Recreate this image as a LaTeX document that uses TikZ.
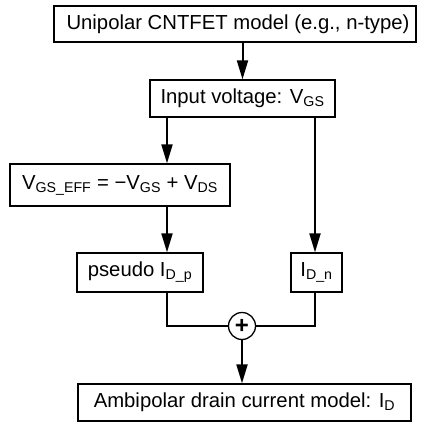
\documentclass[tikz,border=0pt]{standalone}
\usepackage{fontspec}
\setmainfont{Liberation Sans}
\usetikzlibrary{arrows.meta}

\tikzset{
  blockbox/.style={draw, line width=1.3pt, inner sep=0pt, align=center},
  flowarrow/.style={-{Triangle[length=19pt,width=11pt]}, line width=2pt},
  flowline/.style={line width=2pt},
}

\begin{document}
\begin{tikzpicture}[x=1pt, y=-1pt, font=\fontsize{20.3}{24}\selectfont]
  \useasboundingbox (0,0) rectangle (425,422);

  % lanes of the two branches
  \coordinate (leftlane) at (167,0);
  \coordinate (rightlane) at (315,0);

  \node[blockbox, minimum width=362pt, minimum height=36pt] (unipolar) at (235,24)
    {\hspace{6pt}Unipolar CNTFET model (e.g., n-type)};
  \node[blockbox, minimum width=185pt, minimum height=37pt] (input) at (242.5,98.5)
    {Input voltage: V\textsubscript{GS}};
  \node[blockbox, minimum width=220pt, minimum height=42pt] (vgseff) at (120,185)
    {V\textsubscript{GS\_EFF} = \textminus V\textsubscript{GS} + V\textsubscript{DS}};
  \node[blockbox, minimum width=126pt, minimum height=39pt] (pseudo) at (140,272.5)
    {pseudo I\textsubscript{D\_p}};
  \node[blockbox, minimum width=51pt, minimum height=39pt] (idn) at (316.5,272.5)
    {I\textsubscript{D\_n}};
  \node[draw, circle, line width=1.3pt, minimum size=27pt, inner sep=0pt,
        font=\fontsize{24}{24}\selectfont\bfseries] (sum) at (242,326) {+};
  \node[blockbox, minimum width=333pt, minimum height=37pt] (output) at (244.5,402.5)
    {Ambipolar drain current model: I\textsubscript{D}};

  \draw[flowarrow] (unipolar.south -| input) -- (input.north);
  \draw[flowarrow] (input.south -| leftlane) -- (vgseff.north -| leftlane);
  \draw[flowarrow] (vgseff.south -| leftlane) -- (pseudo.north -| leftlane);
  \draw[flowarrow] (input.south -| rightlane) -- (idn.north -| rightlane);
  \draw[flowline] (pseudo.south -| leftlane) |- (sum.west);
  \draw[flowline] (idn.south -| rightlane) |- (sum.east);
  \draw[flowarrow] (sum.south) -- (output.north -| sum);
\end{tikzpicture}
\end{document}
